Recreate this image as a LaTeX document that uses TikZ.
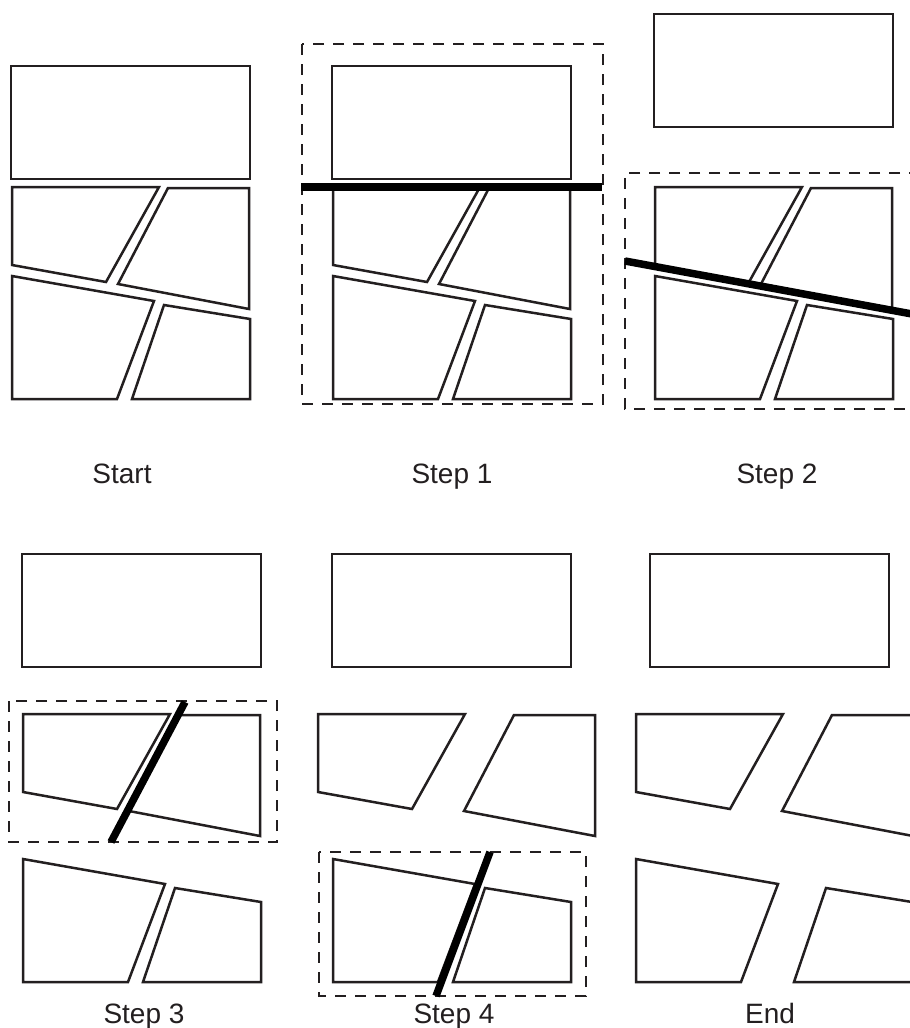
\documentclass[tikz,border=0pt]{standalone}
\usepackage{fontspec}
\setmainfont{Liberation Sans}
\definecolor{ink}{RGB}{35,31,32}
\tikzset{
  piece/.style={draw=ink, line width=2.5, line join=miter},
  cutline/.style={draw=black, line width=7.5},
  frame/.style={draw=ink, line width=2.4, dash pattern=on 11 off 9},
  lbl/.style={anchor=base, text=ink, font=\fontsize{28}{32}\selectfont, inner sep=0}
}
\newcommand\pTop{\draw[piece] (11,66) rectangle (250,179);}
\newcommand\pTL{\draw[piece] (12,187) -- (159,187) -- (106,282) -- (12,265) -- cycle;}
\newcommand\pTR{\draw[piece] (168,188) -- (249,188) -- (249,309) -- (118,284) -- cycle;}
\newcommand\pBL{\draw[piece] (12,276) -- (154,301) -- (117,399) -- (12,399) -- cycle;}
\newcommand\pBR{\draw[piece] (164,305) -- (250,319) -- (250,399) -- (132,399) -- cycle;}
\begin{document}
\begin{tikzpicture}[x=1pt,y=-1pt]
\useasboundingbox (0,0) rectangle (910,1028);
\clip (0,0) rectangle (910,1028);
\fill[white] (0,0) rectangle (910,1028);
% ---- Start
\begin{scope}
 \pTop \pTL \pTR \pBL \pBR
\end{scope}
\node[lbl] (lstart) at (122,483) {Start};
% ---- Step 1
\begin{scope}[shift={(321,0)}]
 \pTop \pTL \pTR \pBL \pBR
\end{scope}
\draw[frame] (302,44) rectangle (603,404);
\coordinate (c1a) at (301,187);
\coordinate (c1b) at (602,187);
\draw[cutline] (c1a) -- (c1b);
\node[lbl] (lstep1) at (452,483) {Step 1};
% ---- Step 2
\begin{scope}[shift={(643,-52)}]
 \pTop
\end{scope}
\begin{scope}[shift={(643,0)}]
 \pTL \pTR \pBL \pBR
\end{scope}
\draw[frame] (920,173) -- (625,173) -- (625,409) -- (920,409);
\coordinate (c2a) at (625,261);
\coordinate (c2b) at (912,314);
\draw[cutline] (c2a) -- (c2b);
\node[lbl] (lstep2) at (777,483) {Step 2};
% ---- Step 3
\begin{scope}[shift={(11,488)}]
 \pTop
\end{scope}
\begin{scope}[shift={(11,527)}]
 \pTL \pTR
\end{scope}
\begin{scope}[shift={(11,583)}]
 \pBL \pBR
\end{scope}
\draw[frame] (9,701) rectangle (277,842);
\coordinate (c3a) at (185,702);
\coordinate (c3b) at (111,842);
\draw[cutline] (c3a) -- (c3b);
\node[lbl] (lstep3) at (144,1023) {Step 3};
% ---- Step 4
\begin{scope}[shift={(321,488)}]
 \pTop
\end{scope}
\begin{scope}[shift={(306,527)}]
 \pTL
\end{scope}
\begin{scope}[shift={(346,527)}]
 \pTR
\end{scope}
\begin{scope}[shift={(321,583)}]
 \pBL \pBR
\end{scope}
\draw[frame] (319,852) rectangle (586,996);
\coordinate (c4a) at (490,852);
\coordinate (c4b) at (436,996);
\draw[cutline] (c4a) -- (c4b);
\node[lbl] (lstep4) at (454,1023) {Step 4};
% ---- End
\begin{scope}[shift={(639,488)}]
 \pTop
\end{scope}
\begin{scope}[shift={(624,527)}]
 \pTL
\end{scope}
\begin{scope}[shift={(664,527)}]
 \pTR
\end{scope}
\begin{scope}[shift={(624,583)}]
 \pBL
\end{scope}
\begin{scope}[shift={(662,583)}]
 \pBR
\end{scope}
\node[lbl] (lend) at (770,1023) {End};
\end{tikzpicture}
\end{document}
